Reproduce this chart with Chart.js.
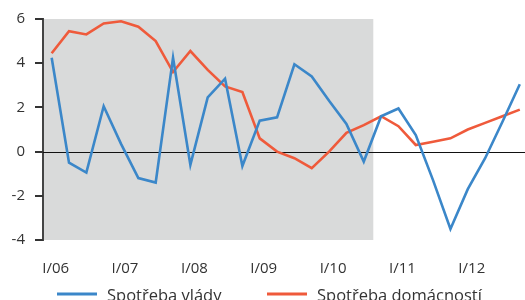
<!DOCTYPE html>
<html>
<head>
<meta charset="utf-8">
<script src="https://cdn.jsdelivr.net/npm/chart.js@4"></script>
<style>
  body { margin: 0; background: #fff; }
  #wrap { width: 525px; height: 300px; }
</style>
</head>
<body>
<div id="wrap"><canvas id="graf" width="525" height="300"></canvas></div>
<script>
// ctvrtleti I/06 .. IV/12
const ctvrtleti = [];
for (let r = 6; r <= 12; r++) {
    for (const q of ['I', 'II', 'III', 'IV']) ctvrtleti.push(q + '/' + String(r).padStart(2, '0'));
}
const popisky = ['I/06', 'I/07', 'I/08', 'I/09', 'I/10', 'I/11', 'I/12'];

const spotrebaVlady = [
    4.25, -0.5, -0.95, 2.05, 0.35, -1.2, -1.4, 4.25,
    -0.6, 2.45, 3.3, -0.65, 1.4, 1.55, 3.95, 3.4,
    2.3, 1.25, -0.45, 1.6, 1.95, 0.75, -1.3, -3.5,
    -1.7, -0.3, 1.35, 3.05
];
const spotrebaDomacnosti = [
    4.45, 5.45, 5.3, 5.8, 5.9, 5.65, 5.0, 3.6,
    4.55, 3.7, 2.95, 2.7, 0.6, 0.0, -0.3, -0.75,
    0.0, 0.85, 1.2, 1.6, 1.15, 0.3, 0.45, 0.6,
    1.0, 1.3, 1.6, 1.9
];

const MODRA = '#3b87c9';
const ORANZ = '#ef5a3b';
const konecStinu = 18.55; // sede pozadi konci mezi III/10 a IV/10

const sedePozadi = {
    id: 'sedePozadi',
    beforeDraw(chart) {
        const { ctx, chartArea, scales } = chart;
        const x2 = scales.x.getPixelForValue(konecStinu);
        ctx.save();
        ctx.fillStyle = '#d9dada';
        ctx.fillRect(chartArea.left, chartArea.top, x2 - chartArea.left, chartArea.bottom - chartArea.top);
        ctx.restore();
    },
    beforeDatasetsDraw(chart) {
        // nulova linie + carky na ose y
        const { ctx, chartArea, scales } = chart;
        const y0 = Math.round(scales.y.getPixelForValue(0)) + 0.5;
        ctx.save();
        ctx.strokeStyle = '#111';
        ctx.lineWidth = 1.2;
        ctx.beginPath();
        ctx.moveTo(chartArea.left, y0);
        ctx.lineTo(chartArea.right, y0);
        ctx.stroke();
        ctx.strokeStyle = '#333';
        ctx.lineWidth = 2;
        ctx.beginPath();
        for (const t of scales.y.ticks) {
            const y = Math.round(scales.y.getPixelForValue(t.value));
            ctx.moveTo(chartArea.left - 8, y);
            ctx.lineTo(chartArea.left, y);
        }
        ctx.stroke();
        ctx.restore();
    }
};

// vlastni legenda dole (je v originale orizla)
const legenda = {
    id: 'legenda',
    afterDraw(chart) {
        const ctx = chart.ctx;
        const polozky = [
            { x: 57, text: chart.data.datasets[0].label, barva: MODRA },
            { x: 267, text: chart.data.datasets[1].label, barva: ORANZ }
        ];
        ctx.save();
        ctx.font = '16.5px "Open Sans"';
        ctx.textBaseline = 'middle';
        ctx.fillStyle = '#333';
        for (const p of polozky) {
            ctx.strokeStyle = p.barva;
            ctx.lineWidth = 3;
            ctx.beginPath();
            ctx.moveTo(p.x, 294);
            ctx.lineTo(p.x + 40, 294);
            ctx.stroke();
            ctx.fillText(p.text, p.x + 50, 296);
        }
        ctx.restore();
    }
};

const body = arr => arr.map((v, i) => ({ x: i, y: v }));

new Chart(document.getElementById('graf').getContext('2d'), {
    type: 'line',
    data: {
        datasets: [{
            label: 'Spotřeba vlády',
            data: body(spotrebaVlady),
            borderColor: MODRA,
            backgroundColor: MODRA,
            borderWidth: 2.6,
            pointRadius: 0,
            tension: 0
        }, {
            label: 'Spotřeba domácností',
            data: body(spotrebaDomacnosti),
            borderColor: ORANZ,
            backgroundColor: ORANZ,
            borderWidth: 2.6,
            pointRadius: 0,
            tension: 0
        }]
    },
    options: {
        responsive: false,
        animation: false,
        layout: { padding: { top: 14, right: 0, left: 0, bottom: 10 } },
        plugins: {
            tooltip: { enabled: false },
            legend: { display: false }
        },
        scales: {
            x: {
                type: 'linear',
                min: -0.5,
                max: 27.3,
                afterBuildTicks: axis => { axis.ticks = popisky.map((p, i) => ({ value: i * 4 })); },
                ticks: {
                    callback: v => ctvrtleti[v],
                    color: '#333',
                    font: { family: 'Open Sans', size: 15 },
                    padding: 12,
                    labelOffset: 4,
                    maxRotation: 0,
                    autoSkip: false
                },
                grid: { display: false },
                border: { display: false }
            },
            y: {
                min: -4,
                max: 6,
                afterFit: s => { s.width = 43; },
                ticks: {
                    stepSize: 2,
                    color: '#333',
                    font: { family: 'Open Sans', size: 15 },
                    padding: 10
                },
                // carky kresli plugin, mrizka jen kvuli odsazeni popisku
                grid: {
                    color: 'rgba(0,0,0,0)',
                    tickLength: 8,
                    drawOnChartArea: false
                },
                border: { display: true, color: '#444', width: 2 }
            }
        }
    },
    plugins: [sedePozadi, legenda]
});
</script>
</body>
</html>
